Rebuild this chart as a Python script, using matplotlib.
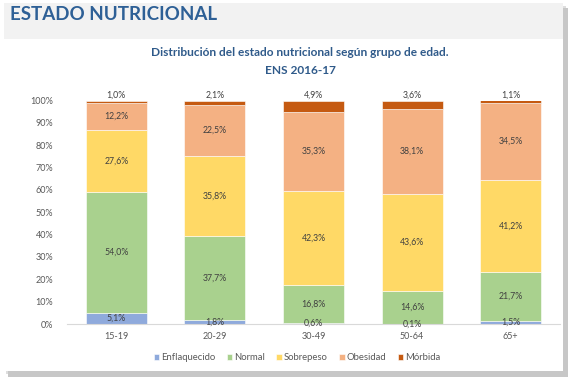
import matplotlib
matplotlib.use("Agg")
import matplotlib.pyplot as plt
from matplotlib.patches import Rectangle
import numpy as np

plt.rcParams['font.family'] = ['Lato', 'DejaVu Sans']

categories = ["15-19", "20-29", "30-49", "50-64", "65+"]
series_names = ["Enflaquecido", "Normal", "Sobrepeso", "Obesidad", "Mórbida"]
enflaquecido = [5.1, 1.8, 0.6, 0.1, 1.5]
normal = [54.0, 37.7, 16.8, 14.6, 21.7]
sobrepeso = [27.6, 35.8, 42.3, 43.6, 41.2]
obesidad = [12.2, 22.5, 35.3, 38.1, 34.5]
morbida = [1.0, 2.1, 4.9, 3.6, 1.1]
yticks = [0, 10, 20, 30, 40, 50, 60, 70, 80, 90, 100]

colors = ["#8faadc", "#a9d18e", "#ffd966", "#f4b183", "#c55a11"]
values = [enflaquecido, normal, sobrepeso, obesidad, morbida]

W, H = 574, 382
fig = plt.figure(figsize=(W / 100, H / 100), dpi=100)
fig.patch.set_facecolor("white")

# background panel with shadow
bg = fig.add_axes([0, 0, 1, 1])
bg.set_xlim(0, W)
bg.set_ylim(H, 0)
bg.axis("off")
bg.add_patch(Rectangle((8, 8), 560, 369, facecolor="#9a9a9a", edgecolor="none", alpha=0.55))
bg.add_patch(Rectangle((6, 6), 560, 368, facecolor="#c8c8c8", edgecolor="none", alpha=0.6))
bg.add_patch(Rectangle((4, 3), 559, 368, facecolor="white", edgecolor="none"))
bg.add_patch(Rectangle((4, 3), 559, 36, facecolor="#f2f2f2", edgecolor="none"))
bg.text(10, 15, "ESTADO NUTRICIONAL", fontsize=13.5, fontweight="bold",
        color="#2e6096", va="center", ha="left")
bg.text(300, 53, "Distribución del estado nutricional según grupo de edad.",
        fontsize=8.6, fontweight="bold", color="#2f5a8a", ha="center", va="center")
bg.text(300, 70, "ENS 2016-17", fontsize=8.6, fontweight="bold",
        color="#2f5a8a", ha="center", va="center")

ax = fig.add_axes([67 / W, (H - 324) / H, 493 / W, 223.5 / H])
x = np.arange(len(categories))
bottom = np.zeros(len(categories))
for name, vals, c in zip(series_names, values, colors):
    v = np.array(vals)
    ax.bar(x, v, bottom=bottom, width=0.62, color=c, label=name,
           edgecolor="white", linewidth=0.4)
    for xi, b, vi in zip(x, bottom, v):
        lbl = f"{vi:.1f}%".replace(".", ",")
        if name == "Mórbida":
            ax.text(xi, b + vi + 0.4, lbl, ha="center", va="bottom",
                    fontsize=6.3, color="#404040")
        else:
            ax.text(xi, b + vi / 2, lbl, ha="center", va="center",
                    fontsize=6.3, color="#404040")
    bottom += v

ax.set_xlim(-0.5, 4.5)
ax.set_ylim(0, 100)
ax.set_yticks(yticks)
ax.set_yticklabels([f"{t}%" for t in yticks])
ax.set_xticks(x)
ax.set_xticklabels(categories)
ax.tick_params(axis="both", length=0, labelsize=6.5, labelcolor="#595959")
ax.tick_params(axis="y", pad=10)
ax.tick_params(axis="x", pad=6)
for s in ["top", "right", "left"]:
    ax.spines[s].set_visible(False)
ax.spines["bottom"].set_color("#d9d9d9")
ax.spines["bottom"].set_linewidth(0.8)
ax.patch.set_alpha(0)

leg = fig.legend(loc="center", bbox_to_anchor=(297 / W, (H - 358) / H), ncol=5,
                 frameon=False, fontsize=6.8, handlelength=0.6, handleheight=0.6,
                 handletextpad=0.2, columnspacing=1.2)
for t in leg.get_texts():
    t.set_color("#595959")

fig.savefig("out.png", dpi=100)
